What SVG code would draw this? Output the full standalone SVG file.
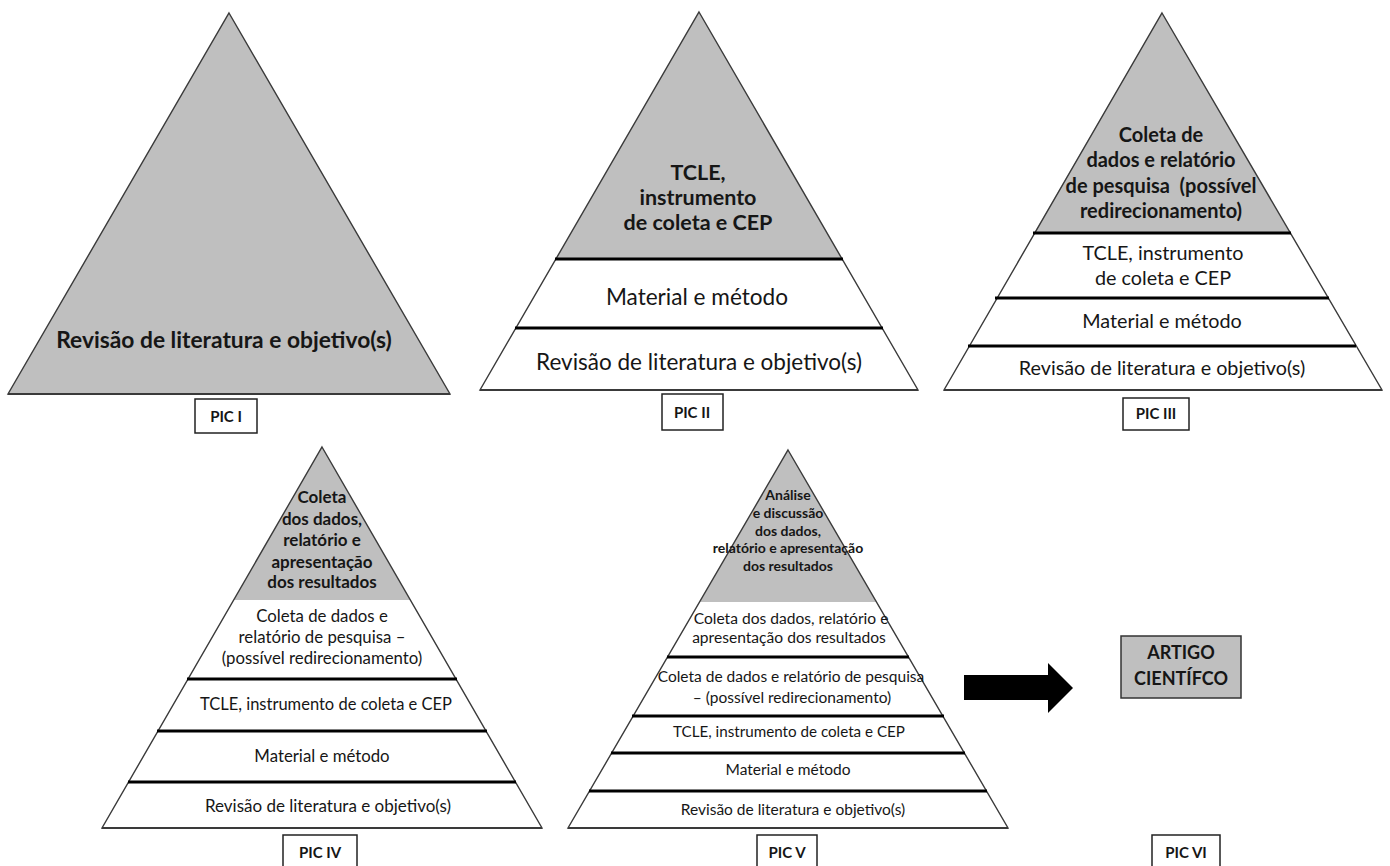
<svg xmlns="http://www.w3.org/2000/svg" width="1390" height="866" viewBox="0 0 1390 866">
<style>
text{font-family:Lato,"Liberation Sans",sans-serif;fill:#161616;text-anchor:middle}
.b{font-weight:700}
.gray{fill:#bfbfbf;stroke:none}
.tri{fill:none;stroke:#3a3a3a;stroke-width:1.4;stroke-linejoin:miter}
.base{stroke:#3a3a3a;stroke-width:2}
.div{stroke:#000;stroke-width:2.8}
.lbl{fill:#fff;stroke:#222;stroke-width:1.5}
.lt{font-weight:700;font-size:15px}
</style>
<rect width="1390" height="866" fill="#fff"/>

<g id="pic1">
<polygon points="229,13 450,394 8,394" fill="#bfbfbf" stroke="#3a3a3a" stroke-width="1.4"/>
<line class="base" x1="8" y1="394" x2="450" y2="394"/>
<text class="b" x="224" y="348" font-size="22.8">Revisão de literatura e objetivo(s)</text>
<rect class="lbl" x="195" y="399" width="62" height="34"/>
<text class="lt" x="226" y="421.5">PIC I</text>
</g>

<g id="pic2">
<polygon class="gray" points="699,12 842,259 556,259"/>
<polygon class="tri" points="699,12 918,390 480,390"/>
<line class="base" x1="480" y1="390" x2="918" y2="390"/>
<line class="div" x1="555" y1="259" x2="843" y2="259"/>
<line class="div" x1="515" y1="328" x2="883" y2="328"/>
<text class="b" font-size="21.5"><tspan x="698" y="180">TCLE,</tspan><tspan x="698" y="205">instrumento</tspan><tspan x="698" y="230">de coleta e CEP</tspan></text>
<text x="697" y="305" font-size="22.6">Material e método</text>
<text x="699" y="370" font-size="22.5">Revisão de literatura e objetivo(s)</text>
<rect class="lbl" x="662" y="394" width="61" height="36"/>
<text class="lt" x="692" y="417.5">PIC II</text>
</g>

<g id="pic3">
<polygon class="gray" points="1162,13 1290,233 1034,233"/>
<polygon class="tri" points="1162,13 1382,390 944,390"/>
<line class="base" x1="944" y1="390" x2="1382" y2="390"/>
<line class="div" x1="1033" y1="233" x2="1291" y2="233"/>
<line class="div" x1="995" y1="298" x2="1329" y2="298"/>
<line class="div" x1="968" y1="346" x2="1356" y2="346"/>
<text class="b" font-size="20"><tspan x="1161" y="142">Coleta de</tspan><tspan x="1161" y="167">dados e relatório</tspan><tspan x="1161" y="193">de pesquisa&#160; (possível</tspan><tspan x="1161" y="218">redirecionamento)</tspan></text>
<text font-size="19.8"><tspan x="1163" y="260">TCLE, instrumento</tspan><tspan x="1163" y="285">de coleta e CEP</tspan></text>
<text x="1162" y="328" font-size="19.8">Material e método</text>
<text x="1162" y="375" font-size="19.8">Revisão de literatura e objetivo(s)</text>
<rect class="lbl" x="1123" y="398" width="66" height="32"/>
<text class="lt" x="1156" y="419">PIC III</text>
</g>

<g id="pic4">
<polygon class="gray" points="322,447 410,600 234,600"/>
<polygon class="tri" points="322,447 542,828 102,828"/>
<line class="base" x1="102" y1="828" x2="542" y2="828"/>
<line class="div" x1="187" y1="679" x2="457" y2="679"/>
<line class="div" x1="157" y1="731" x2="487" y2="731"/>
<line class="div" x1="128" y1="782" x2="516" y2="782"/>
<text class="b" font-size="17"><tspan x="322" y="503">Coleta</tspan><tspan x="322" y="525">dos dados,</tspan><tspan x="322" y="546">relatório e</tspan><tspan x="322" y="568">apresentação</tspan><tspan x="322" y="588">dos resultados</tspan></text>
<text font-size="16.8"><tspan x="322" y="622">Coleta de dados e</tspan><tspan x="322" y="643">relatório de pesquisa –</tspan><tspan x="322" y="664">(possível redirecionamento)</tspan></text>
<text x="326" y="710" font-size="16.5">TCLE, instrumento de coleta e CEP</text>
<text x="322" y="762" font-size="16.8">Material e método</text>
<text x="328" y="812" font-size="17">Revisão de literatura e objetivo(s)</text>
<rect class="lbl" x="283" y="835" width="74" height="40"/>
<text class="lt" x="320" y="857.5">PIC IV</text>
</g>

<g id="pic5">
<polygon class="gray" points="788,450 876,602 700,602"/>
<polygon class="tri" points="788,450 1008,828 568,828"/>
<line class="base" x1="568" y1="828" x2="1008" y2="828"/>
<line class="div" x1="667" y1="657" x2="909" y2="657"/>
<line class="div" x1="632" y1="716" x2="944" y2="716"/>
<line class="div" x1="611" y1="753" x2="965" y2="753"/>
<line class="div" x1="589" y1="791" x2="987" y2="791"/>
<text class="b" font-size="14"><tspan x="788" y="500">Análise</tspan><tspan x="788" y="518">e discussão</tspan><tspan x="788" y="536">dos dados,</tspan><tspan x="788" y="553">relatório e apresentação</tspan><tspan x="788" y="571">dos resultados</tspan></text>
<text font-size="15.6"><tspan x="791" y="624">Coleta dos dados, relatório e</tspan><tspan x="789" y="643">apresentação dos resultados</tspan></text>
<text font-size="15.5"><tspan x="791" y="682">Coleta de dados e relatório de pesquisa</tspan><tspan x="792" y="703">– (possível redirecionamento)</tspan></text>
<text x="789" y="737" font-size="15.2">TCLE, instrumento de coleta e CEP</text>
<text x="788" y="775" font-size="15.5">Material e método</text>
<text x="793" y="815" font-size="15.5">Revisão de literatura e objetivo(s)</text>
<rect class="lbl" x="757" y="835" width="60" height="40"/>
<text class="lt" x="787" y="857.5">PIC V</text>
</g>

<g id="pic6">
<rect x="1121" y="636" width="120" height="62" fill="#bfbfbf" stroke="#333" stroke-width="1.5"/>
<text class="b" font-size="18"><tspan x="1181" y="659">ARTIGO</tspan><tspan x="1181" y="685">CIENTÍFCO</tspan></text>
<rect class="lbl" x="1152" y="835" width="68" height="40"/>
<text class="lt" x="1186" y="857.5">PIC VI</text>
</g>

<g id="connectors">
<polygon points="964,675 1048,675 1048,663 1073,688 1048,713 1048,700 964,700" fill="#000"/>
</g>
</svg>
